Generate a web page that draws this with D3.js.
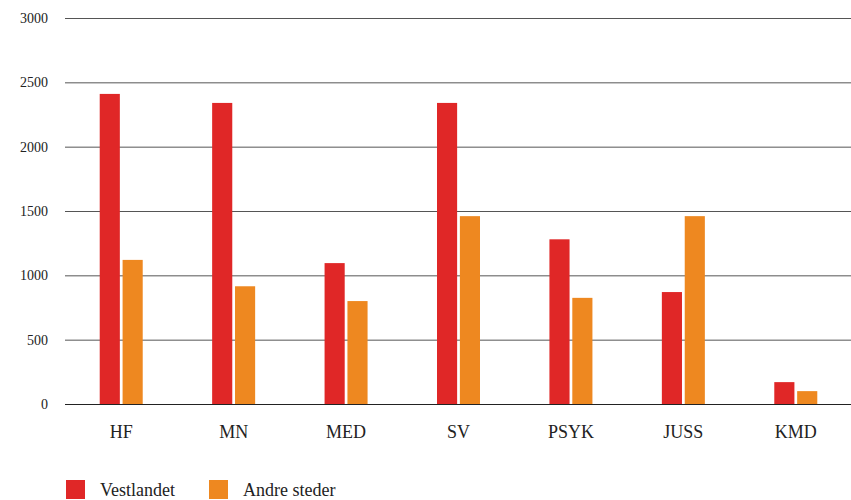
<!DOCTYPE html>
<html>
<head>
<meta charset="utf-8">
<script src="https://cdn.jsdelivr.net/npm/d3@7"></script>
<style>
body { margin: 0; background: #fff; }
svg text { font-family: "Liberation Serif", "Times New Roman", "Noto Serif", "DejaVu Serif", serif !important; fill: #222; }
</style>
</head>
<body>
<svg id="chart" width="851" height="500"></svg>
<script>
// data
var categories = ["HF", "MN", "MED", "SV", "PSYK", "JUSS", "KMD"];
var seriesNames = ["Vestlandet", "Andre steder"];
var vestlandet = [2410, 2340, 1095, 2340, 1280, 870, 170];
var andreSteder = [1120, 915, 800, 1460, 825, 1460, 100];
var yTicks = [0, 500, 1000, 1500, 2000, 2500, 3000];
var colors = ["#e02727", "#ee8820"];

var svg = d3.select("#chart");

var x = d3.scaleBand()
	.domain(categories)
	.range([65, 852]);

var y = d3.scaleLinear()
	.domain([0, 3000])
	.range([404, 18]);

// the two bars inside each group
var inner = d3.scaleBand()
	.domain(seriesNames)
	.range([x.bandwidth() / 2 - 21.5, x.bandwidth() / 2 + 21.5])
	.paddingInner(0.12);

// gridlines + y labels
var yAxis = d3.axisLeft(y)
	.tickValues(yTicks)
	.tickSize(-(851 - 65))
	.tickPadding(17)
	.tickFormat(d3.format("d"));

var gy = svg.append("g")
	.attr("transform", "translate(65,0)")
	.call(yAxis)
	.attr("font-family", null);
gy.select(".domain").remove();
gy.selectAll(".tick line")
	.attr("stroke", function(d){ return d == 0 ? "#222" : "#555"; })
	.attr("stroke-width", 1);
gy.selectAll(".tick text")
	.style("font-size", "14px")
	.attr("fill", "#222");

var rows = categories.map(function(c, i){
	return {cat: c, values: [vestlandet[i], andreSteder[i]]};
});

var groups = svg.selectAll(".grp")
	.data(rows)
	.enter().append("g")
	.attr("class", "grp")
	.attr("transform", function(d){ return "translate(" + x(d.cat) + ",0)"; });

groups.selectAll("rect")
	.data(function(d){
		return d.values.map(function(v, j){ return {name: seriesNames[j], value: v, k: j}; });
	})
	.enter().append("rect")
	.attr("x", function(d){ return inner(d.name); })
	.attr("width", inner.bandwidth())
	.attr("y", function(d){ return y(d.value); })
	.attr("height", function(d){ return y(0) - y(d.value); })
	.attr("fill", function(d){ return colors[d.k]; });

// category labels
var xAxis = d3.axisBottom(x).tickSize(0).tickPadding(21);
var gx = svg.append("g")
	.attr("transform", "translate(0,404)")
	.call(xAxis)
	.attr("font-family", null);
gx.select(".domain").remove();
gx.selectAll(".tick text")
	.style("font-size", "18px")
	.attr("fill", "#222");

// legend
var legendX = [66, 209];
var legend = svg.selectAll(".legend")
	.data(seriesNames)
	.enter().append("g")
	.attr("class", "legend")
	.attr("transform", function(d, i){ return "translate(" + legendX[i] + ",480)"; });

legend.append("rect")
	.attr("width", 19)
	.attr("height", 19)
	.attr("fill", function(d, i){ return colors[i]; });

legend.append("text")
	.attr("x", 34)
	.attr("y", 16)
	.style("font-size", "18px")
	.text(function(d){ return d; });
</script>
</body>
</html>
